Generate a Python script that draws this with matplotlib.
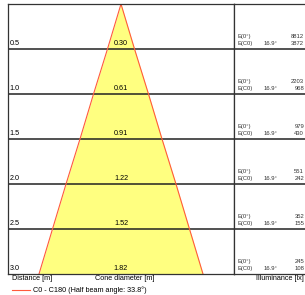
import matplotlib
matplotlib.use('Agg')
import matplotlib.pyplot as plt

plt.rcParams['font.family'] = ['Liberation Sans', 'DejaVu Sans']

# 数据
distances = [0.5, 1.0, 1.5, 2.0, 2.5, 3.0]
diameters = [0.30, 0.61, 0.91, 1.22, 1.52, 1.82]
e_0 = [8812, 2203, 979, 551, 352, 245]
e_c0 = [3872, 968, 430, 242, 155, 108]
half_angle = 16.9
beam_angle = 33.8

W, H = 305, 295
fig = plt.figure(figsize=(W / 100, H / 100), dpi=100)

x0, xm, top, bot = 8, 234, 4, 274
ax = fig.add_axes([x0 / W, (H - bot) / H, (xm - x0) / W, (bot - top) / H])
ax2 = fig.add_axes([xm / W, (H - bot) / H, (W - xm + 2) / W, (bot - top) / H])

half_w = 1.254
for a in (ax, ax2):
    a.set_ylim(distances[-1], 0)
    a.set_xticks([])
    a.set_yticks([])
    for s in a.spines.values():
        s.set_color('#333333')
        s.set_linewidth(0.9)
    for d in distances[:-1]:
        a.axhline(d, color='#222222', lw=1.1)
ax.set_xlim(-half_w, half_w)
ax2.set_xlim(0, 1)
ax2.spines['right'].set_visible(False)

# 光锥
ys = [0] + distances
xs = [0] + [d / 2 for d in diameters]
ax.fill_betweenx(ys, [-x for x in xs], xs, color='#ffff80', lw=0)
ax.plot([-x for x in xs], ys, color='#ff5a3c', lw=0.8)
ax.plot(xs, ys, color='#ff5a3c', lw=0.8)

fs = 5.2
for d, dia, a0, ac in zip(distances, diameters, e_0, e_c0):
    ax.text(-half_w + 0.02, d - 0.065, f'{d:.1f}', fontsize=fs, va='center', ha='left')
    ax.text(0, d - 0.065, f'{dia:.2f}', fontsize=fs, va='center', ha='center')
    ax2.text(0.045, d - 0.135, 'E(0°)', fontsize=4.2, va='center', ha='left', color='#333333')
    ax2.text(0.045, d - 0.065, 'E(C0)', fontsize=4.2, va='center', ha='left', color='#333333')
    ax2.text(0.5, d - 0.065, f'{half_angle}°', fontsize=4.2, va='center', ha='center', color='#333333')
    ax2.text(0.96, d - 0.135, str(a0), fontsize=4.2, va='center', ha='right', color='#333333')
    ax2.text(0.96, d - 0.065, str(ac), fontsize=4.2, va='center', ha='right', color='#333333')

fig.text(12 / W, 1 - 279 / H, 'Distance [m]', fontsize=fs, va='center', ha='left')
fig.text(95 / W, 1 - 279 / H, 'Cone diameter [m]', fontsize=fs, va='center', ha='left')
fig.text(304 / W, 1 - 279 / H, 'Illuminance [lx]', fontsize=fs, va='center', ha='right')
fig.add_artist(plt.Line2D([12 / W, 30 / W], [1 - 290 / H, 1 - 290 / H], color='#ff5a3c', lw=0.8))
fig.text(33 / W, 1 - 290 / H, f'C0 - C180 (Half beam angle: {beam_angle}°)', fontsize=fs, va='center', ha='left')

fig.savefig('out.png', dpi=100)
